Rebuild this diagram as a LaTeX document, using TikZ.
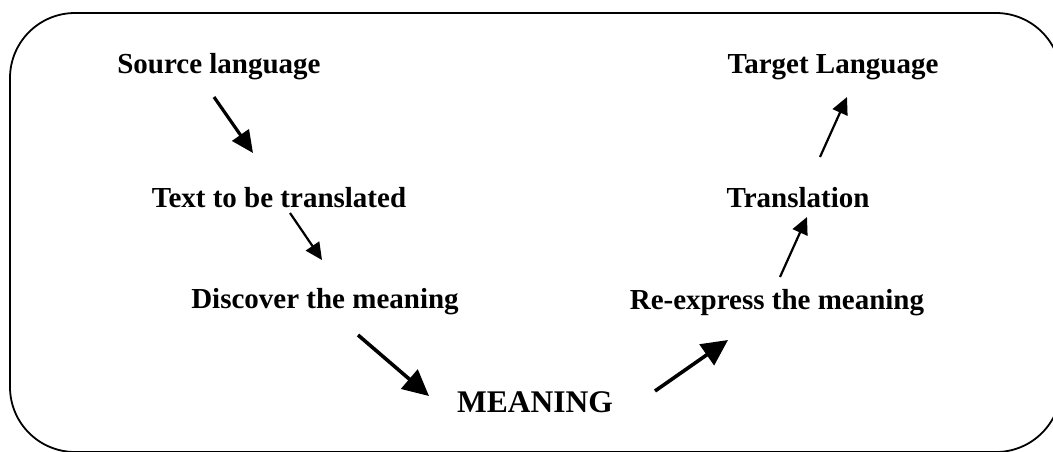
\documentclass[tikz,border=0pt]{standalone}
\usepackage{fontspec}
\setmainfont{Liberation Serif}
\usetikzlibrary{arrows.meta,calc}
\tikzset{
  lbl/.style={anchor=base,inner sep=0pt,font=\fontsize{29}{34}\selectfont\bfseries},
  big/.style={anchor=base,inner sep=0pt,font=\fontsize{31.5}{36}\selectfont\bfseries},
  thickarr/.style={line width=3.2pt,-{Triangle[length=22pt,width=20pt]}},
  heavyarr/.style={line width=3.6pt,-{Triangle[length=26pt,width=25pt]}},
  thinarr/.style={line width=2.2pt,-{Triangle[length=17pt,width=16pt]}},
  frame/.style={line width=1.8pt,rounded corners=65pt}
}
\begin{document}
\begin{tikzpicture}[x=1pt,y=-1pt]
\useasboundingbox (0,0) rectangle (1053,451);
\begin{scope}
\clip (0,0) rectangle (1053,451);
\draw[frame] (10,13) rectangle (1061,452);
\end{scope}
\node[lbl] (src) at (219,73) {Source language};
\node[lbl] (txt) at (279,207) {Text to be translated};
\node[lbl] (disc) at (325,308) {Discover the meaning};
\node[big] (mean) at (535,412) {MEANING};
\node[lbl] (re) at (777,309) {Re-express the meaning};
\node[lbl] (trans) at (798,207) {Translation};
\node[lbl] (tgt) at (833,73) {Target Language};
\draw[thickarr] ($(src.base)+(-5,24)$) -- ($(txt.base)+(-26,-54)$);
\draw[thinarr] ($(txt.base)+(11,6)$) -- ($(disc.base)+(-3,-48)$);
\draw[heavyarr] ($(disc.base)+(33,27)$) -- ($(mean.base)+(-106,-16)$);
\draw[heavyarr] ($(mean.base)+(120,-21)$) -- ($(re.base)+(-49,31)$);
\draw[thinarr] ($(re.base)+(3,-32)$) -- ($(trans.base)+(9,10)$);
\draw[thinarr] ($(trans.base)+(22,-50)$) -- ($(tgt.base)+(14,24)$);
\end{tikzpicture}
\end{document}
